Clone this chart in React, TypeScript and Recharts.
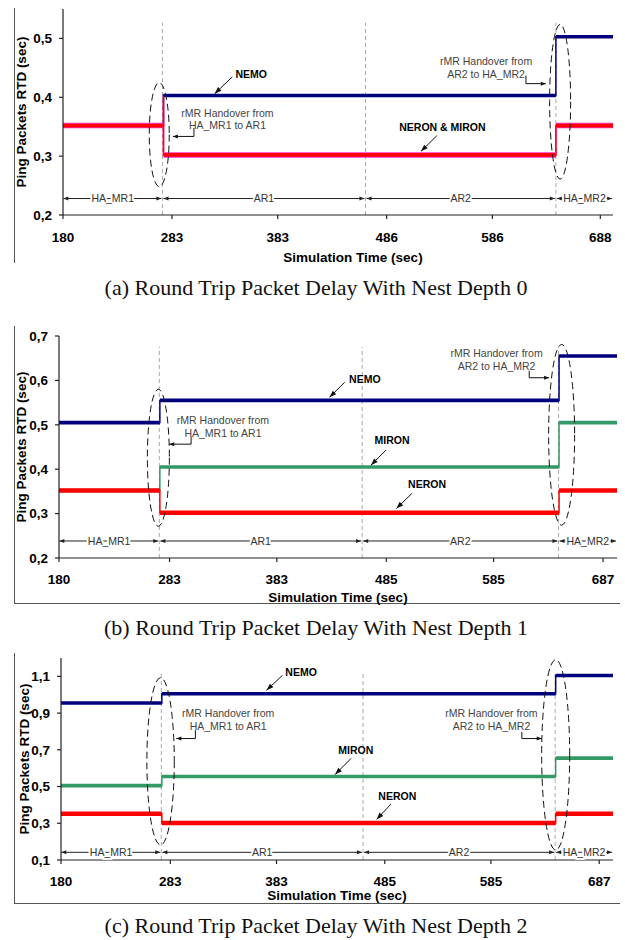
import React from 'react';
import { LineChart, Line, XAxis, YAxis, ReferenceLine, ReferenceDot, Label } from 'recharts';

// ---- data (time in sec, RTD in sec) ----
const ZONE_NAMES = ['HA_MR1', 'AR1', 'AR2', 'HA_MR2'];

// (a) nest depth 0
const TICKS_A = [180, 283, 383, 486, 586, 688];
const YTICKS_A = [0.2, 0.3, 0.4, 0.5];
const EDGES_A = [180, 275, 646, 700];
const NEMO_A = [0.352, 0.403, 0.503];
const MIRON_A = [0.352, 0.302, 0.352];
const NERON_A = [0.352, 0.302, 0.352];
const PEAK_A = 0.405; // first sample right after HA_MR1 -> AR1
const ZONES_A = [180, 274, 466, 646, 700];

// (b) nest depth 1
const TICKS_B = [180, 283, 383, 485, 585, 687];
const YTICKS_B = [0.2, 0.3, 0.4, 0.5, 0.6, 0.7];
const EDGES_B = [180, 274, 646, 700];
const NEMO_B = [0.505, 0.555, 0.655];
const MIRON_B = [0.352, 0.405, 0.505];
const NERON_B = [0.352, 0.302, 0.352];
const ZONES_B = [180, 273.5, 462.5, 645.5, 700];

// (c) nest depth 2
const TICKS_C = [180, 283, 383, 485, 585, 687];
const YTICKS_C = [0.1, 0.3, 0.5, 0.7, 0.9, 1.1];
const EDGES_C = [180, 275, 646, 700];
const NEMO_C = [0.955, 1.005, 1.105];
const MIRON_C = [0.505, 0.555, 0.655];
const NERON_C = [0.352, 0.302, 0.352];
const ZONES_C = [180, 274.5, 464.5, 645.5, 700];

const SANS = "'Liberation Sans', Arial, Helvetica, sans-serif";
const SERIF = "'Liberation Serif', 'Times New Roman', serif";
const NAVY = '#00007f';
const RED = '#ff0000';
const GREEN = '#339966';
const MAGENTA = '#ff33cc';

// extra room under each chart so descenders of the axis title are not clipped
const PAD = 8;

type Pt = { t: number; v: number };

const stepPath = (edges: number[], vals: number[], peak?: number): Pt[] => {
  const pts: Pt[] = [];
  vals.forEach((v, i) => {
    pts.push({ t: edges[i], v });
    pts.push({ t: edges[i + 1], v });
  });
  if (peak !== undefined) pts.splice(2, 0, { t: edges[1], v: peak });
  return pts;
};

const levels = (edges: number[], vals: number[]): Pt[][] =>
  vals.map((v, i) => [{ t: edges[i], v }, { t: edges[i + 1], v }]);

const headPts = (x1: number, y1: number, x2: number, y2: number, len: number, w: number) => {
  const a = Math.atan2(y2 - y1, x2 - x1);
  const bx = x2 - len * Math.cos(a);
  const by = y2 - len * Math.sin(a);
  const px = (-Math.sin(a) * w) / 2;
  const py = (Math.cos(a) * w) / 2;
  return `${x2},${y2} ${bx + px},${by + py} ${bx - px},${by - py}`;
};

const arrowShape = (heads: 'none' | 'end' | 'both', len = 6, w = 4, color = '#111') => (p: any) => (
  <g>
    <line x1={p.x1} y1={p.y1} x2={p.x2} y2={p.y2} stroke={color} strokeWidth={1} />
    {heads !== 'none' && <polygon points={headPts(p.x1, p.y1, p.x2, p.y2, len, w)} fill={color} />}
    {heads === 'both' && <polygon points={headPts(p.x2, p.y2, p.x1, p.y1, len, w)} fill={color} />}
  </g>
);

const ellipseShape = (rx: number) => (p: any) => (
  <ellipse
    cx={p.x1}
    cy={(p.y1 + p.y2) / 2}
    rx={rx}
    ry={Math.abs(p.y2 - p.y1) / 2}
    fill="none"
    stroke="#111"
    strokeWidth={1}
    strokeDasharray="7 4"
  />
);

const textShape = (lines: string[], bold: boolean, color: string, halo = false) => (p: any) => (
  <text
    x={p.cx}
    y={p.cy}
    textAnchor="middle"
    fontFamily={SANS}
    fontSize={10.5}
    fontWeight={bold ? 'bold' : 'normal'}
    fill={color}
    stroke={halo ? '#fff' : 'none'}
    strokeWidth={halo ? 4 : 0}
    paintOrder="stroke"
  >
    {lines.map((l, i) => (
      <tspan key={i} x={p.cx} dy={i === 0 ? '0.36em' : 12.5}>
        {l}
      </tspan>
    ))}
  </text>
);

const fmt = (v: number) => v.toFixed(1).replace('.', ',');

const TICK = { fontSize: 13.5, fontWeight: 'bold', fill: '#000', fontFamily: SANS };
const AXIS = { stroke: '#222', strokeWidth: 1.2 };

type Series = { color: string; width: number; edges: number[]; values: number[]; peak?: number };
type Tag = { text: string; x: number; y: number; from: [number, number]; to: [number, number] };
type Handover = { lines: string[]; x: number; y: number; ex: number; ey1: number; ey2: number; tip: number };
type Oval = { x: number; y1: number; y2: number; rx: number };

type PanelCfg = {
  top: number;
  height: number;
  mTop: number;
  mRight: number;
  yAxisW: number;
  xAxisH: number;
  xTickMargin: number;
  xLabelOffset: number;
  xLabelDx: number;
  yLabelOffset: number;
  yDomain: [number, number];
  yTicks: number[];
  xTicks: number[];
  zones: number[];
  zoneY: number;
  dashTop: number;
  series: Series[];
  ovals: Oval[];
  tags: Tag[];
  handovers: Handover[];
};

const PANEL_A: PanelCfg = {
  top: 0, height: 265, mTop: 9, mRight: 12, yAxisW: 63, xAxisH: 50, xTickMargin: 13,
  xLabelOffset: 3, xLabelDx: 15, yLabelOffset: 21,
  yDomain: [0.2, 0.55], yTicks: YTICKS_A, xTicks: TICKS_A, zones: ZONES_A, zoneY: 0.228, dashTop: 0.527,
  series: [
    { color: NAVY, width: 3.5, edges: EDGES_A, values: NEMO_A },
    { color: MAGENTA, width: 5.5, edges: EDGES_A, values: MIRON_A, peak: PEAK_A },
    { color: RED, width: 3.8, edges: EDGES_A, values: NERON_A, peak: PEAK_A },
  ],
  ovals: [
    { x: 271, y1: 0.248, y2: 0.425, rx: 10 },
    { x: 650, y1: 0.261, y2: 0.524, rx: 10.5 },
  ],
  tags: [
    { text: 'NEMO', x: 358, y: 0.44, from: [340, 0.4346], to: [323.4, 0.406] },
    { text: 'NERON & MIRON', x: 538.7, y: 0.3494, from: [533.4, 0.3346], to: [518.4, 0.3082] },
  ],
  handovers: [
    { lines: ['rMR Handover from', 'HA_MR1 to AR1'], x: 335.5, y: 0.373, ex: 303.8, ey1: 0.3477, ey2: 0.3335, tip: 283.9 },
    { lines: ['rMR Handover from', 'AR2 to HA_MR2'], x: 580, y: 0.4612, ex: 617.7, ey1: 0.4368, ey2: 0.4232, tip: 636.5 },
  ],
};

const PANEL_B: PanelCfg = {
  top: 326, height: 277, mTop: 10, mRight: 8, yAxisW: 59, xAxisH: 45, xTickMargin: 12,
  xLabelOffset: 1, xLabelDx: 0, yLabelOffset: 21,
  yDomain: [0.2, 0.7], yTicks: YTICKS_B, xTicks: TICKS_B, zones: ZONES_B, zoneY: 0.2383, dashTop: 0.676,
  series: [
    { color: NAVY, width: 3.6, edges: EDGES_B, values: NEMO_B },
    { color: GREEN, width: 3.6, edges: EDGES_B, values: MIRON_B },
    { color: RED, width: 4.5, edges: EDGES_B, values: NERON_B },
  ],
  ovals: [
    { x: 272.6, y1: 0.2715, y2: 0.58, rx: 11 },
    { x: 648.4, y1: 0.274, y2: 0.681, rx: 13 },
  ],
  tags: [
    { text: 'NEMO', x: 465, y: 0.6037, from: [446.2, 0.5956], to: [432.1, 0.5618] },
    { text: 'MIRON', x: 490.4, y: 0.4648, from: [484.7, 0.4429], to: [470.7, 0.4091] },
    { text: 'NERON', x: 523, y: 0.3669, from: [508.8, 0.3452], to: [494.4, 0.3114] },
  ],
  handovers: [
    { lines: ['rMR Handover from', 'HA_MR1 to AR1'], x: 332.8, y: 0.5099, ex: 303.1, ey1: 0.4729, ey2: 0.4564, tip: 282.7 },
    { lines: ['rMR Handover from', 'AR2 to HA_MR2'], x: 587.8, y: 0.661, ex: 618.2, ey1: 0.6218, ey2: 0.606, tip: 636.7 },
  ],
};

const PANEL_C: PanelCfg = {
  top: 653, height: 250, mTop: 5, mRight: 12, yAxisW: 61, xAxisH: 43, xTickMargin: 12,
  xLabelOffset: 3, xLabelDx: 0, yLabelOffset: 24,
  yDomain: [0.1, 1.2], yTicks: YTICKS_C, xTicks: TICKS_C, zones: ZONES_C, zoneY: 0.1418, dashTop: 1.123,
  series: [
    { color: NAVY, width: 3.6, edges: EDGES_C, values: NEMO_C },
    { color: GREEN, width: 3.6, edges: EDGES_C, values: MIRON_C },
    { color: RED, width: 4.5, edges: EDGES_C, values: NERON_C },
  ],
  ovals: [
    { x: 273.8, y1: 0.1815, y2: 1.093, rx: 13.7 },
    { x: 646, y1: 0.154, y2: 1.191, rx: 14 },
  ],
  tags: [
    { text: 'NEMO', x: 406.2, y: 1.1234, from: [388.6, 1.1054], to: [373.6, 1.0239] },
    { text: 'MIRON', x: 457.7, y: 0.6962, from: [453.2, 0.6527], to: [438.2, 0.5658] },
    { text: 'NERON', x: 496.8, y: 0.4478, from: [490.8, 0.4043], to: [477.3, 0.3212] },
  ],
  handovers: [
    { lines: ['rMR Handover from', 'HA_MR1 to AR1'], x: 337.5, y: 0.8973, ex: 306.6, ey1: 0.8065, ey2: 0.7614, tip: 288.6 },
    { lines: ['rMR Handover from', 'AR2 to HA_MR2'], x: 585.5, y: 0.8973, ex: 614.1, ey1: 0.7973, ey2: 0.7614, tip: 632.9 },
  ],
};

const Panel = ({ cfg }: { cfg: PanelCfg }) => {
  const [y0] = cfg.yDomain;
  return (
    <div style={{ position: 'absolute', left: 0, top: cfg.top }}>
      <LineChart width={625} height={cfg.height + PAD} margin={{ top: cfg.mTop, right: cfg.mRight, left: 0, bottom: 0 }}>
        <XAxis
          type="number"
          dataKey="t"
          domain={[180, 700]}
          ticks={cfg.xTicks}
          interval={0}
          allowDataOverflow
          height={cfg.xAxisH + PAD}
          tickSize={4}
          tickMargin={cfg.xTickMargin}
          tick={TICK}
          axisLine={AXIS}
          tickLine={AXIS}
        >
          <Label
            value="Simulation Time (sec)"
            position="insideBottom"
            offset={cfg.xLabelOffset + PAD}
            dx={cfg.xLabelDx}
            style={{ fontSize: 13.5, fontWeight: 'bold', fill: '#000', fontFamily: SANS }}
          />
        </XAxis>
        <YAxis
          type="number"
          dataKey="v"
          domain={cfg.yDomain}
          ticks={cfg.yTicks}
          interval={0}
          allowDataOverflow
          width={cfg.yAxisW}
          tickSize={4}
          tickMargin={7}
          tickFormatter={fmt}
          tick={TICK}
          axisLine={AXIS}
          tickLine={AXIS}
        >
          <Label
            value="Ping Packets RTD (sec)"
            angle={-90}
            position="insideLeft"
            offset={cfg.yLabelOffset}
            style={{ fontSize: 13.5, fontWeight: 'bold', fill: '#000', fontFamily: SANS, textAnchor: 'middle' }}
          />
        </YAxis>

        {cfg.zones.slice(1, -1).map((z, i) => (
          <ReferenceLine
            key={`dash${i}`}
            segment={[{ x: z, y: y0 }, { x: z, y: cfg.dashTop }]}
            stroke="#aaa"
            strokeWidth={1}
            strokeDasharray="4 3"
          />
        ))}

        {cfg.series.map((s, i) => (
          <Line
            key={`thin${i}`}
            data={stepPath(s.edges, s.values, s.peak)}
            dataKey="v"
            type="linear"
            stroke={s.color}
            strokeWidth={1.5}
            dot={false}
            activeDot={false}
            isAnimationActive={false}
          />
        ))}
        {cfg.series.flatMap((s, i) =>
          levels(s.edges, s.values).map((seg, j) => (
            <Line
              key={`lvl${i}-${j}`}
              data={seg}
              dataKey="v"
              type="linear"
              stroke={s.color}
              strokeWidth={s.width}
              dot={false}
              activeDot={false}
              isAnimationActive={false}
            />
          ))
        )}

        {ZONE_NAMES.map((name, i) => (
          <ReferenceLine
            key={`zone${i}`}
            segment={[
              { x: cfg.zones[i] + (i === 0 ? 0.3 : 1), y: cfg.zoneY },
              { x: cfg.zones[i + 1] - 1, y: cfg.zoneY },
            ]}
            shape={arrowShape('both', 5, 4, '#222')}
          />
        ))}
        {ZONE_NAMES.map((name, i) => (
          <ReferenceDot
            key={`zl${i}`}
            x={(cfg.zones[i] + cfg.zones[i + 1]) / 2}
            y={cfg.zoneY}
            shape={textShape([name], false, '#333', true)}
          />
        ))}

        {cfg.ovals.map((o, i) => (
          <ReferenceLine
            key={`oval${i}`}
            segment={[{ x: o.x, y: o.y1 }, { x: o.x, y: o.y2 }]}
            shape={ellipseShape(o.rx)}
          />
        ))}

        {cfg.tags.map((t, i) => (
          <ReferenceLine
            key={`ta${i}`}
            segment={[{ x: t.from[0], y: t.from[1] }, { x: t.to[0], y: t.to[1] }]}
            shape={arrowShape('end', 7, 5)}
          />
        ))}
        {cfg.tags.map((t, i) => (
          <ReferenceDot key={`tt${i}`} x={t.x} y={t.y} shape={textShape([t.text], true, '#000')} />
        ))}

        {cfg.handovers.map((h, i) => (
          <ReferenceLine
            key={`hv${i}`}
            segment={[{ x: h.ex, y: h.ey1 }, { x: h.ex, y: h.ey2 }]}
            shape={arrowShape('none')}
          />
        ))}
        {cfg.handovers.map((h, i) => (
          <ReferenceLine
            key={`hh${i}`}
            segment={[{ x: h.ex, y: h.ey2 }, { x: h.tip, y: h.ey2 }]}
            shape={arrowShape('end', 5, 4)}
          />
        ))}
        {cfg.handovers.map((h, i) => (
          <ReferenceDot key={`ht${i}`} x={h.x} y={h.y} shape={textShape(h.lines, false, '#444')} />
        ))}
      </LineChart>
    </div>
  );
};

const Caption = ({ top, text }: { top: number; text: string }) => (
  <div
    style={{
      position: 'absolute',
      left: 0,
      top,
      width: 632,
      textAlign: 'center',
      fontFamily: SERIF,
      fontSize: 22,
      lineHeight: '22px',
      whiteSpace: 'nowrap',
      color: '#111',
    }}
  >
    {text}
  </div>
);

const Rule = ({ left, top, width, height }: { left: number; top: number; width: number; height: number }) => (
  <div style={{ position: 'absolute', left, top, width, height, background: '#555' }} />
);

export default function App() {
  return (
    <div style={{ position: 'absolute', left: 0, top: 0, width: 625, height: 940, background: '#fff', overflow: 'hidden' }}>
      <Rule left={14} top={8} width={1} height={255} />
      <Rule left={14} top={326} width={1} height={277} />
      <Rule left={14} top={603} width={606} height={1} />
      <Rule left={14} top={653} width={1} height={250} />
      <Rule left={14} top={903} width={606} height={1} />

      <Panel cfg={PANEL_A} />
      <Caption top={276.6} text="(a) Round Trip Packet Delay With Nest Depth 0" />
      <Panel cfg={PANEL_B} />
      <Caption top={616.6} text="(b) Round Trip Packet Delay With Nest Depth 1" />
      <Panel cfg={PANEL_C} />
      <Caption top={914.9} text="(c) Round Trip Packet Delay With Nest Depth 2" />
    </div>
  );
}
